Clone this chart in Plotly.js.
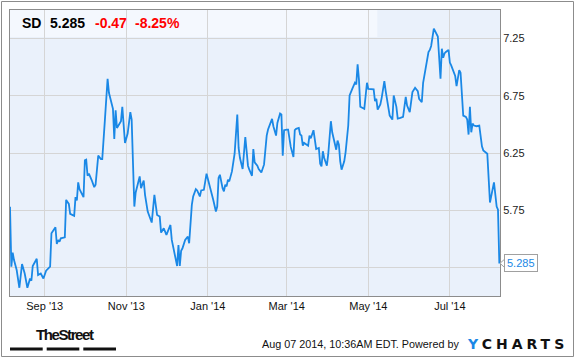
<!DOCTYPE html>
<html><head><meta charset="utf-8">
<script src="https://cdn.plot.ly/plotly-3.0.1.min.js"></script>
<style>html,body{margin:0;padding:0;background:#fff;}#chart{width:575px;height:358px;}</style>
</head><body><div id="chart"></div>
<script>
// ---- data ----
const dates = [
'2013-08-06','2013-08-07','2013-08-08','2013-08-09','2013-08-11','2013-08-13','2013-08-15','2013-08-17','2013-08-19','2013-08-21',
'2013-08-22','2013-08-23','2013-08-26','2013-08-27','2013-08-29','2013-08-31','2013-09-02','2013-09-04','2013-09-05','2013-09-06',
'2013-09-09','2013-09-10','2013-09-11','2013-09-12','2013-09-13','2013-09-16','2013-09-17','2013-09-19','2013-09-20','2013-09-23',
'2013-09-24','2013-09-25','2013-09-26','2013-09-27','2013-09-30','2013-10-01','2013-10-02','2013-10-03','2013-10-04','2013-10-06',
'2013-10-08','2013-10-09','2013-10-11','2013-10-13','2013-10-14','2013-10-16','2013-10-18','2013-10-19','2013-10-21','2013-10-22',
'2013-10-23','2013-10-24','2013-10-25','2013-10-27','2013-10-28','2013-10-29','2013-10-30','2013-10-31','2013-11-02','2013-11-04',
'2013-11-05','2013-11-06','2013-11-07','2013-11-08','2013-11-11','2013-11-12','2013-11-14','2013-11-15','2013-11-17','2013-11-20',
'2013-11-22','2013-11-24','2013-11-26','2013-11-27','2013-11-29','2013-12-01','2013-12-04','2013-12-05','2013-12-07','2013-12-09',
'2013-12-10','2013-12-11','2013-12-12','2013-12-13','2013-12-15','2013-12-17','2013-12-18','2013-12-20','2013-12-21','2013-12-23',
'2013-12-24','2013-12-26','2013-12-27','2013-12-29','2013-12-31','2014-01-02','2014-01-04','2014-01-05','2014-01-07','2014-01-08',
'2014-01-09','2014-01-10','2014-01-12','2014-01-13','2014-01-14','2014-01-15','2014-01-16','2014-01-17','2014-01-19','2014-01-21',
'2014-01-23','2014-01-24','2014-01-25','2014-01-27','2014-01-29','2014-01-30','2014-01-31','2014-02-01','2014-02-03','2014-02-04',
'2014-02-05','2014-02-07','2014-02-08','2014-02-10','2014-02-11','2014-02-12','2014-02-14','2014-02-15','2014-02-18','2014-02-19',
'2014-02-21','2014-02-22','2014-02-24','2014-02-25','2014-02-26','2014-02-27','2014-03-01','2014-03-02','2014-03-04','2014-03-06',
'2014-03-07','2014-03-08','2014-03-10','2014-03-11','2014-03-12','2014-03-13','2014-03-14','2014-03-16','2014-03-17','2014-03-18',
'2014-03-19','2014-03-21','2014-03-22','2014-03-23','2014-03-25','2014-03-26','2014-03-27','2014-03-28','2014-03-29','2014-03-31',
'2014-04-01','2014-04-03','2014-04-04','2014-04-06','2014-04-07','2014-04-08','2014-04-09','2014-04-10','2014-04-11','2014-04-13',
'2014-04-14','2014-04-16','2014-04-17','2014-04-19','2014-04-21','2014-04-22','2014-04-23','2014-04-24','2014-04-25','2014-04-28',
'2014-04-30','2014-05-01','2014-05-03','2014-05-05','2014-05-06','2014-05-07','2014-05-08','2014-05-10','2014-05-11','2014-05-13',
'2014-05-14','2014-05-16','2014-05-17','2014-05-19','2014-05-20','2014-05-22','2014-05-23','2014-05-25','2014-05-27','2014-05-29',
'2014-05-30','2014-06-01','2014-06-03','2014-06-05','2014-06-07','2014-06-08','2014-06-10','2014-06-11','2014-06-13','2014-06-15',
'2014-06-16','2014-06-17','2014-06-19','2014-06-20','2014-06-22','2014-06-24','2014-06-25','2014-06-26','2014-06-27','2014-06-28',
'2014-06-30','2014-07-01','2014-07-02','2014-07-05','2014-07-06','2014-07-08','2014-07-09','2014-07-11','2014-07-13','2014-07-14',
'2014-07-15','2014-07-16','2014-07-17','2014-07-18','2014-07-19','2014-07-21','2014-07-23','2014-07-25','2014-07-26','2014-07-29',
'2014-07-30','2014-07-31','2014-08-03','2014-08-05','2014-08-06','2014-08-07'
];
const prices = [
5.78,5.256,5.379,5.314,5.227,5.072,5.279,5.197,5.072,5.153,
5.133,5.262,5.326,5.183,5.197,5.153,5.221,5.25,5.256,5.548,
5.601,5.455,5.49,5.475,5.504,5.513,5.84,5.805,5.718,5.70,
5.864,5.835,5.993,5.934,5.864,6.186,6.192,6.051,6.069,6.016,
5.952,5.972,6.227,6.197,6.197,6.542,6.899,6.776,6.674,6.636,
6.373,6.624,6.469,6.507,6.528,6.654,6.461,6.338,6.42,6.607,
6.542,6.221,5.782,5.905,6.045,5.943,6.01,5.884,5.738,5.642,
5.884,5.709,5.694,5.554,5.592,5.534,5.621,5.49,5.379,5.262,
5.446,5.262,5.396,5.417,5.49,5.519,5.461,5.797,5.87,5.934,
5.923,5.87,5.923,5.928,6.069,5.981,5.905,5.841,5.738,5.782,
6.031,6.06,5.943,5.914,5.972,5.958,6.016,6.002,6.089,6.244,
6.586,6.294,6.206,6.11,6.39,6.221,6.139,6.104,6.051,6.285,
6.168,6.139,6.11,6.08,6.118,6.148,6.402,6.455,6.548,6.484,
6.402,6.513,6.595,6.586,6.227,6.449,6.455,6.455,6.303,6.215,
6.449,6.461,6.469,6.411,6.402,6.314,6.338,6.323,6.314,6.402,
6.379,6.449,6.338,6.285,6.294,6.156,6.133,6.265,6.206,6.139,
6.235,6.528,6.431,6.332,6.279,6.358,6.323,6.177,6.104,6.177,
6.256,6.49,6.753,6.811,6.864,6.85,7.025,6.893,6.654,6.636,
6.864,6.811,6.811,6.806,6.703,6.724,6.63,6.674,6.732,6.879,
6.791,6.624,6.577,6.542,6.753,6.654,6.551,6.557,6.566,6.741,
6.665,6.607,6.782,6.82,6.791,6.724,6.694,6.864,7.01,7.133,
7.151,7.186,7.338,7.317,7.268,6.899,7.162,7.083,7.121,7.133,
7.151,7.04,7.016,6.923,6.835,6.975,6.952,6.577,6.566,6.542,
6.411,6.654,6.431,6.507,6.49,6.484,6.49,6.308,6.273,6.244,
6.045,5.817,5.993,5.782,5.755,5.285
];
const ticker = 'SD';
const lastPrice = 5.285;
const change = -0.47;
const changePct = -8.25;
const xTickDates = ['2013-09-01','2013-11-01','2014-01-01','2014-03-01','2014-05-01','2014-07-01'];
const xTickLabels = ["Sep '13","Nov '13","Jan '14","Mar '14","May '14","Jul '14"];
const yTickVals = [5.25,5.75,6.25,6.75,7.25];
const yTickLabels = ['','5.75','6.25','6.75','7.25'];
const stamp = 'Aug 07 2014, 10:36AM EDT.';
const brandLeft = 'TheStreet';

// ---- layout helpers (pixel -> paper) ----
const W = 575, H = 358, M = {l:10, r:75, t:10, b:62};
const PW = W - M.l - M.r, PH = H - M.t - M.b;
const px = x => (x - M.l) / PW;
const py = y => (H - M.b - y) / PH;

const BLUE = '#1a88e6';
const FONT = 'Arial, Liberation Sans, sans-serif';

const trace = {
  type:'scatter', mode:'lines', x:dates, y:prices,
  line:{color:BLUE, width:1.8}, hoverinfo:'skip'
};

function ann(text, x, y, opts){
  return Object.assign({text, xref:'paper', yref:'paper', x:px(x), y:py(y),
    xanchor:'left', yanchor:'middle', showarrow:false, borderpad:0, borderwidth:0}, opts||{});
}

const annotations = [
  ann('<b>'+ticker+'</b>', 21.5, 23.5, {font:{family:FONT,size:14,color:'#000'}}),
  ann('<b>'+lastPrice.toFixed(3)+'</b>', 50, 23.5, {font:{family:FONT,size:14,color:'#000'}}),
  ann('<b>'+change.toFixed(2)+'</b>', 95, 23.5, {font:{family:FONT,size:14,color:'#f00'}}),
  ann('<b>'+changePct.toFixed(2)+'%</b>', 135, 23.5, {font:{family:FONT,size:14,color:'#f00'}}),
  ann('<b><span style="letter-spacing:-1.4px">'+brandLeft+'</span></b>', 36, 335,
      {font:{family:FONT,size:15,color:'#111'}}),
  ann(stamp+' Powered by', 261.5, 344, {font:{family:FONT,size:10.8,color:'#111'}}),
  ann('<b><span style="letter-spacing:4px"><span style="color:'+BLUE+'">Y</span>CHARTS</span></b>', 567.5, 344,
      {xanchor:'right', font:{family:'DejaVu Sans, sans-serif',size:14,color:'#111'}}),
  {text:lastPrice.toFixed(3), xref:'paper', yref:'y', x:px(504), y:lastPrice,
   xanchor:'left', yanchor:'middle', showarrow:false, bgcolor:'#fff',
   bordercolor:'#a0a0a0', borderwidth:1, borderpad:2, font:{family:FONT,size:11,color:BLUE}}
];

const shapes = [
  // lighter header band (under grid)
  {type:'rect', xref:'x domain', yref:'y domain', x0:0, x1:px(377.3), y0:py(37), y1:1,
   fillcolor:'#f4f8fe', line:{width:0}, layer:'below'},
  // outer frame
  {type:'rect', xref:'paper', yref:'paper', x0:px(1.5), x1:px(573.5), y0:py(356.5), y1:py(1.5),
   line:{color:'#8c8c8c', width:1}, fillcolor:'rgba(0,0,0,0)', layer:'above'},
  // footer bars
  {type:'rect', xref:'paper', yref:'paper', x0:px(10), x1:px(42.7), y0:py(350.5), y1:py(347.5), fillcolor:'#111', line:{width:0}},
  {type:'rect', xref:'paper', yref:'paper', x0:px(46.7), x1:px(79.3), y0:py(350.5), y1:py(347.5), fillcolor:'#111', line:{width:0}},
  {type:'rect', xref:'paper', yref:'paper', x0:px(83.3), x1:px(116), y0:py(350.5), y1:py(347.5), fillcolor:'#111', line:{width:0}},
  // notch of last-value label
  {type:'path', xref:'paper', yref:'paper',
   path:'M'+px(505)+','+py(258.8)+' L'+px(500)+','+py(263.3)+' L'+px(505)+','+py(267.8)+' Z',
   fillcolor:'#fff', line:{color:'#a0a0a0', width:1}, layer:'above'}
];

const layout = {
  width:W, height:H, margin:{l:M.l, r:M.r, t:M.t, b:M.b, pad:0},
  paper_bgcolor:'#fff', plot_bgcolor:'#eaf1fb', showlegend:false,
  font:{family:FONT, size:11, color:'#222'},
  xaxis:{type:'date', range:['2013-08-06','2014-08-07 12:00'], tickmode:'array',
    tickvals:xTickDates, ticktext:xTickLabels, showgrid:true, gridcolor:'#d5d5d5', gridwidth:1,
    showline:true, linecolor:'#8c8c8c', linewidth:1, mirror:true, ticks:'', zeroline:false,
    tickfont:{family:FONT, size:11, color:'#111'}, fixedrange:true},
  yaxis:{side:'right', range:[5.0,7.5], tickmode:'array', tickvals:yTickVals, ticktext:yTickLabels,
    showgrid:true, gridcolor:'#d5d5d5', gridwidth:1, showline:true, linecolor:'#8c8c8c', linewidth:1,
    mirror:true, ticks:'', zeroline:false, tickfont:{family:FONT, size:11, color:'#222'}, fixedrange:true},
  shapes, annotations
};

Plotly.newPlot('chart', [trace], layout, {staticPlot:true, displayModeBar:false});
</script></body></html>
